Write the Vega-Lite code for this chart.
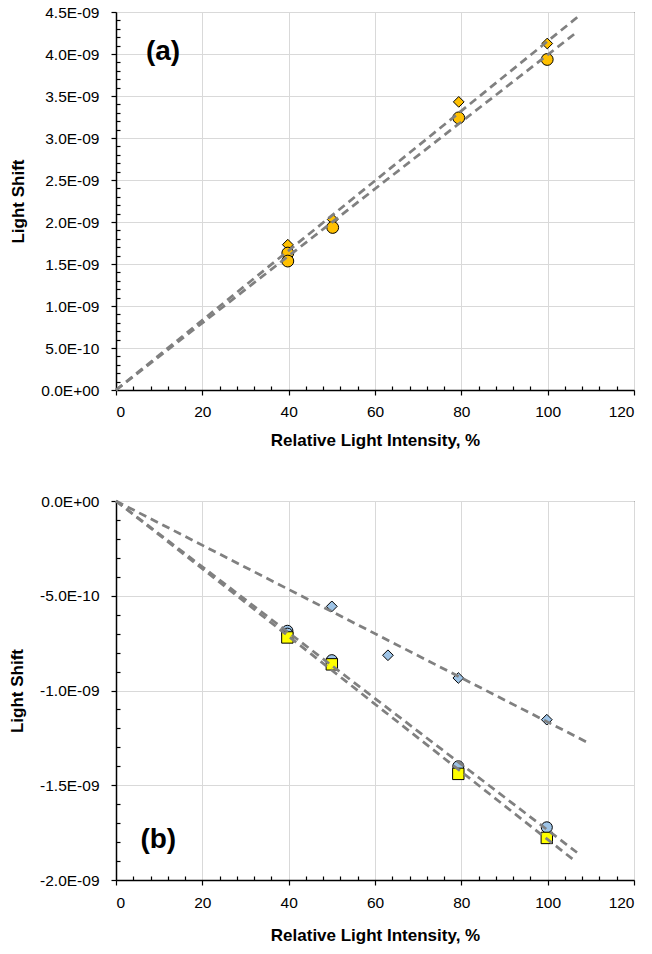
{
  "$schema": "https://vega.github.io/schema/vega-lite/v6.json",
  "padding": {"left": 8, "top": 4, "right": 5, "bottom": 5},
  "background": "white",
  "spacing": 44,
  "resolve": {"scale": {"shape": "independent", "size": "independent", "fill": "independent"}},
  "config": {
    "view": {"stroke": "black", "strokeWidth": 1},
    "font": "Liberation Sans",
    "axis": {
      "labelFont": "Liberation Sans",
      "labelFontSize": 15.5,
      "labelColor": "black",
      "titleFont": "Liberation Sans",
      "titleFontSize": 17,
      "titleFontWeight": "bold",
      "titleColor": "black",
      "domainColor": "black",
      "domainWidth": 1.5,
      "tickColor": "black",
      "tickWidth": 1.2,
      "gridColor": "#D9D9D9",
      "gridWidth": 1
    }
  },
  "datasets": {
    "a_points": [
      {"series": "Diamond", "intensity": 39.8, "shift": 1.73e-9},
      {"series": "Diamond", "intensity": 50.2, "shift": 2.03e-9},
      {"series": "Diamond", "intensity": 79.4, "shift": 3.43e-9},
      {"series": "Diamond", "intensity": 99.9, "shift": 4.125e-9},
      {"series": "Circle", "intensity": 39.8, "shift": 1.63e-9},
      {"series": "Circle", "intensity": 39.8, "shift": 1.535e-9},
      {"series": "Circle", "intensity": 50.2, "shift": 1.935e-9},
      {"series": "Circle", "intensity": 79.4, "shift": 3.24e-9},
      {"series": "Circle", "intensity": 99.9, "shift": 3.935e-9}
    ],
    "a_lines": [
      {"series": "Diamond", "intensity": 0, "shift": 0},
      {"series": "Diamond", "intensity": 107.4, "shift": 4.46e-9},
      {"series": "Circle", "intensity": 0, "shift": 0},
      {"series": "Circle", "intensity": 106.5, "shift": 4.25e-9}
    ],
    "b_points": [
      {"series": "Diamond", "intensity": 50.0, "shift": -0.556e-9},
      {"series": "Diamond", "intensity": 63.0, "shift": -0.814e-9},
      {"series": "Diamond", "intensity": 79.3, "shift": -0.934e-9},
      {"series": "Diamond", "intensity": 99.8, "shift": -1.154e-9},
      {"series": "Circle", "intensity": 39.7, "shift": -0.685e-9},
      {"series": "Circle", "intensity": 39.7, "shift": -0.70e-9},
      {"series": "Circle", "intensity": 50.0, "shift": -0.84e-9},
      {"series": "Circle", "intensity": 79.3, "shift": -1.40e-9},
      {"series": "Circle", "intensity": 99.8, "shift": -1.722e-9},
      {"series": "Square", "intensity": 39.7, "shift": -0.72e-9},
      {"series": "Square", "intensity": 50.0, "shift": -0.862e-9},
      {"series": "Square", "intensity": 79.3, "shift": -1.44e-9},
      {"series": "Square", "intensity": 99.8, "shift": -1.778e-9}
    ],
    "b_lines": [
      {"series": "Diamond", "intensity": 0, "shift": 0},
      {"series": "Diamond", "intensity": 109.9, "shift": -1.282e-9},
      {"series": "Circle", "intensity": 0, "shift": 0},
      {"series": "Circle", "intensity": 106.8, "shift": -1.855e-9},
      {"series": "Square", "intensity": 0, "shift": 0},
      {"series": "Square", "intensity": 105.8, "shift": -1.89e-9}
    ]
  },
  "vconcat": [
    {
      "width": 518,
      "height": 378,
      "layer": [
        {
          "data": {"name": "a_points"},
          "mark": {"type": "point", "filled": true, "stroke": "black", "strokeWidth": 1, "opacity": 1, "fill": "#FFC000"},
          "encoding": {
            "x": {
              "field": "intensity", "type": "quantitative",
              "scale": {"domain": [0, 120], "nice": false, "zero": false},
              "axis": {"orient": "bottom", "title": "Relative Light Intensity, %", "values": [0, 20, 40, 60, 80, 100, 120], "tickSize": 5, "labelPadding": 9, "titlePadding": 13, "grid": true}
            },
            "y": {
              "field": "shift", "type": "quantitative",
              "scale": {"domain": [0, 4.5e-9], "nice": false, "zero": false},
              "axis": {"orient": "left", "title": "Light Shift", "values": [0, 5e-10, 1e-9, 1.5e-9, 2e-9, 2.5e-9, 3e-9, 3.5e-9, 4e-9, 4.5e-9], "tickSize": 5, "labelPadding": 12, "titlePadding": 13, "grid": true,
                "labelExpr": "datum.value == 0 ? '0.0E+00' : (datum.value < 0 ? '-' : '') + format(abs(datum.value) / pow(10, floor(log(abs(datum.value))/LN10 + 1e-9)), '.1f') + 'E' + (floor(log(abs(datum.value))/LN10 + 1e-9) < 0 ? '-' : '+') + format(abs(floor(log(abs(datum.value))/LN10 + 1e-9)), '02d')"}
            },
            "shape": {"field": "series", "type": "nominal", "scale": {"domain": ["Diamond", "Circle"], "range": ["diamond", "circle"]}, "legend": null},
            "size": {"field": "series", "type": "nominal", "scale": {"domain": ["Diamond", "Circle"], "range": [115, 140]}, "legend": null}
          }
        },
        {
          "data": {"name": "a_lines"},
          "mark": {"type": "line", "color": "#808080", "strokeWidth": 2.75, "strokeDash": [8, 5]},
          "encoding": {
            "x": {"field": "intensity", "type": "quantitative", "axis": null},
            "y": {"field": "shift", "type": "quantitative", "axis": null},
            "detail": {"field": "series", "type": "nominal"}
          }
        },
        {
          "data": {"values": [{"label": "(a)"}]},
          "mark": {"type": "text", "fontSize": 28, "fontWeight": "bold", "font": "Liberation Sans", "align": "center", "baseline": "middle", "color": "black"},
          "encoding": {
            "text": {"field": "label"},
            "x": {"datum": 10.9, "type": "quantitative",
              "axis": {"orient": "bottom", "title": null, "labels": false, "domain": false, "grid": false, "tickSize": -4,
                "values": [4, 8, 12, 16, 24, 28, 32, 36, 44, 48, 52, 56, 64, 68, 72, 76, 84, 88, 92, 96, 104, 108, 112, 116]}},
            "y": {"datum": 4.02e-9, "type": "quantitative",
              "axis": {"orient": "left", "title": null, "labels": false, "domain": false, "grid": false, "tickSize": -4,
                "values": [1e-10, 2e-10, 3e-10, 4e-10, 6e-10, 7e-10, 8e-10, 9e-10, 1.1e-9, 1.2e-9, 1.3e-9, 1.4e-9, 1.6e-9, 1.7e-9, 1.8e-9, 1.9e-9, 2.1e-9, 2.2e-9, 2.3e-9, 2.4e-9, 2.6e-9, 2.7e-9, 2.8e-9, 2.9e-9, 3.1e-9, 3.2e-9, 3.3e-9, 3.4e-9, 3.6e-9, 3.7e-9, 3.8e-9, 3.9e-9, 4.1e-9, 4.2e-9, 4.3e-9, 4.4e-9]}}
          }
        }
      ],
      "resolve": {"axis": {"x": "independent", "y": "independent"}}
    },
    {
      "width": 518,
      "height": 379,
      "layer": [
        {
          "data": {"name": "b_points"},
          "mark": {"type": "point", "filled": true, "stroke": "black", "strokeWidth": 1, "opacity": 1},
          "encoding": {
            "x": {
              "field": "intensity", "type": "quantitative",
              "scale": {"domain": [0, 120], "nice": false, "zero": false},
              "axis": {"orient": "bottom", "title": "Relative Light Intensity, %", "values": [0, 20, 40, 60, 80, 100, 120], "tickSize": 5, "labelPadding": 10, "titlePadding": 17, "grid": true}
            },
            "y": {
              "field": "shift", "type": "quantitative",
              "scale": {"domain": [-2e-9, 0], "nice": false, "zero": false},
              "axis": {"orient": "left", "title": "Light Shift", "values": [-2e-9, -1.5e-9, -1e-9, -5e-10, 0], "tickSize": 5, "labelPadding": 12, "titlePadding": 13, "grid": true,
                "labelExpr": "datum.value == 0 ? '0.0E+00' : (datum.value < 0 ? '-' : '') + format(abs(datum.value) / pow(10, floor(log(abs(datum.value))/LN10 + 1e-9)), '.1f') + 'E' + (floor(log(abs(datum.value))/LN10 + 1e-9) < 0 ? '-' : '+') + format(abs(floor(log(abs(datum.value))/LN10 + 1e-9)), '02d')"}
            },
            "shape": {"field": "series", "type": "nominal", "scale": {"domain": ["Diamond", "Circle", "Square"], "range": ["diamond", "circle", "square"]}, "legend": null},
            "fill": {"field": "series", "type": "nominal", "scale": {"domain": ["Diamond", "Circle", "Square"], "range": ["#9DC3E6", "#9DC3E6", "#FFFF00"]}, "legend": null},
            "size": {"field": "series", "type": "nominal", "scale": {"domain": ["Diamond", "Circle", "Square"], "range": [115, 130, 135]}, "legend": null}
          }
        },
        {
          "data": {"name": "b_lines"},
          "mark": {"type": "line", "color": "#808080", "strokeWidth": 2.75, "strokeDash": [8, 5]},
          "encoding": {
            "x": {"field": "intensity", "type": "quantitative", "axis": null},
            "y": {"field": "shift", "type": "quantitative", "axis": null},
            "detail": {"field": "series", "type": "nominal"}
          }
        },
        {
          "data": {"values": [{"label": "(b)"}]},
          "mark": {"type": "text", "fontSize": 28, "fontWeight": "bold", "font": "Liberation Sans", "align": "center", "baseline": "middle", "color": "black"},
          "encoding": {
            "text": {"field": "label"},
            "x": {"datum": 9.8, "type": "quantitative",
              "axis": {"orient": "bottom", "title": null, "labels": false, "domain": false, "grid": false, "tickSize": -4,
                "values": [4, 8, 12, 16, 24, 28, 32, 36, 44, 48, 52, 56, 64, 68, 72, 76, 84, 88, 92, 96, 104, 108, 112, 116]}},
            "y": {"datum": -1.79e-9, "type": "quantitative",
              "axis": {"orient": "left", "title": null, "labels": false, "domain": false, "grid": false, "tickSize": -4,
                "values": [-1.9e-9, -1.8e-9, -1.7e-9, -1.6e-9, -1.4e-9, -1.3e-9, -1.2e-9, -1.1e-9, -9e-10, -8e-10, -7e-10, -6e-10, -4e-10, -3e-10, -2e-10, -1e-10]}}
          }
        }
      ],
      "resolve": {"axis": {"x": "independent", "y": "independent"}}
    }
  ]
}
